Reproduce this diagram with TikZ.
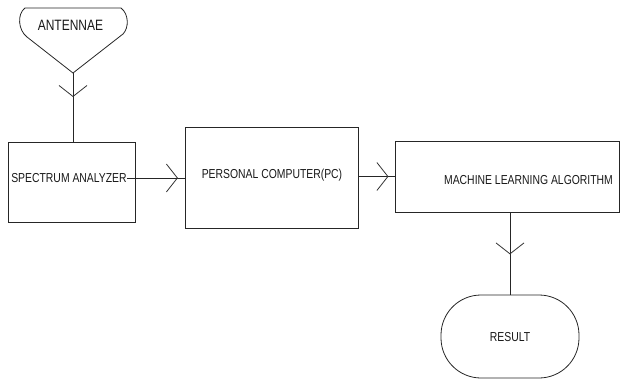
\documentclass[tikz,border=0pt]{standalone}
\usepackage{fontspec}
\setmainfont[FakeStretch=0.8]{Liberation Sans}
\usetikzlibrary{arrows.meta,decorations.markings}
\tikzset{
  box/.style={draw=black!85, line width=0.8pt, minimum width=#1, inner sep=0pt},
  txt/.style={font=\fontsize{13}{15}\selectfont, text=black!90, inner sep=0pt},
  conn/.style={draw=black!85, line width=0.8pt},
  midarrow/.style={postaction={decorate, decoration={markings,
      mark=at position #1 with {\arrow[black!80, line width=0.8pt]{Straight Barb[length=11pt,width=28pt]}}}}}
}
\begin{document}
\begin{tikzpicture}[x=1pt,y=-1pt]
\useasboundingbox (0,0) rectangle (621,382);
% antenna shape
\coordinate (antp) at (73,73);
\draw[conn] (antp) -- (27,37) .. controls (18,30) and (17,14) .. (25,8) -- (121,8)
   .. controls (129,14) and (129,28) .. (123,34) -- cycle;
\node[txt, font=\fontsize{15}{17}\selectfont] (ant) at (70.5,25.5) {ANTENNAE};
% boxes
\node[box=127pt, minimum height=80pt] (sa) at (71.5,182) {};
\node[txt] (satxt) at (69,178) {SPECTRUM ANALYZER};
\node[box=173pt, minimum height=101pt] (pc) at (271.5,177.5) {};
\node[txt] (pctxt) at (272,175.5) {PERSONAL COMPUTER(PC)};
\node[box=224pt, minimum height=71pt] (ml) at (507,176.5) {};
\node[txt] (mltxt) at (528.5,180.5) {MACHINE LEARNING ALGORITHM};
\node[draw=black!85, line width=0.8pt, rounded corners=40pt, minimum width=138pt, minimum height=83pt, inner sep=0pt] (res) at (510,336.5) {};
\node[txt] (restxt) at (510,337) {RESULT};
% connectors
\draw[conn, midarrow=24pt] (antp) -- (antp |- sa.north);
\draw[conn, midarrow=51pt] (satxt.east) -- (satxt.east -| pc.west);
\draw[conn, midarrow=30pt] (ml.west -| pc.east) -- (ml.west);
\draw[conn, midarrow=42pt] (res.north |- ml.south) -- (res.north);
\end{tikzpicture}
\end{document}
